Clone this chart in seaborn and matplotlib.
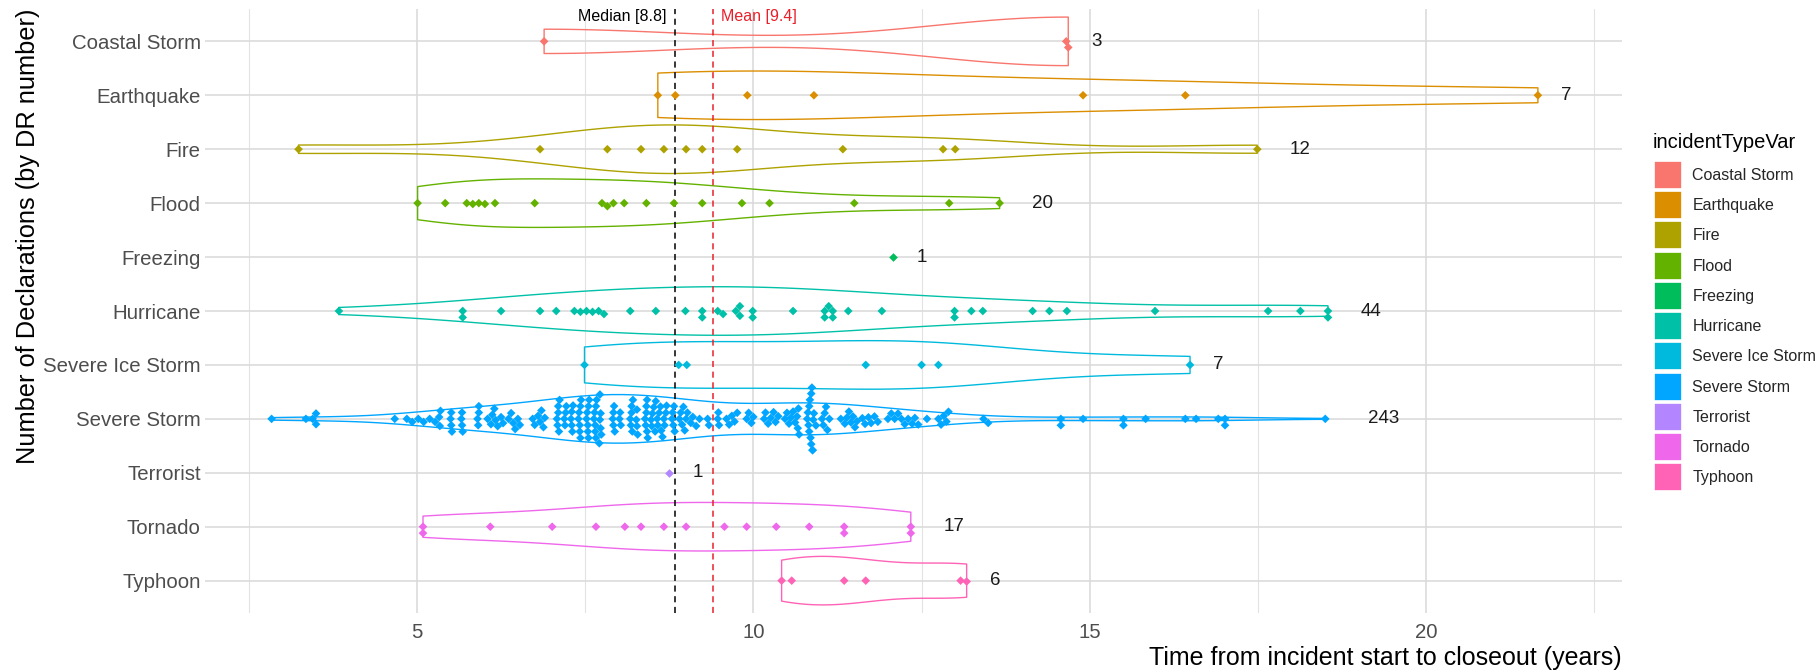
import numpy as np
import pandas as pd
import matplotlib
matplotlib.use("Agg")
import matplotlib.pyplot as plt
import seaborn as sns
import warnings
from matplotlib.patches import Patch
from matplotlib.ticker import FixedLocator

warnings.filterwarnings("ignore")

categories = ["Coastal Storm", "Earthquake", "Fire", "Flood", "Freezing", "Hurricane",
              "Severe Ice Storm", "Severe Storm", "Terrorist", "Tornado", "Typhoon"]
colors = ["#F8766D", "#DB8E00", "#AEA200", "#64B200", "#00BD5C", "#00C1A7",
          "#00BADE", "#00A6FF", "#B385FF", "#EF67EB", "#FF63B6"]

coastal_storm = [6.89, 14.65, 14.68]
earthquake = [8.58, 8.84, 9.91, 10.90, 14.90, 16.42, 21.66]
fire = [3.24, 6.83, 7.83, 8.33, 8.67, 9.00, 9.24, 9.76, 11.33, 12.82, 13.00, 17.49]
flood = [5.01, 5.42, 5.74, 5.83, 5.92, 6.01, 6.16, 6.75, 7.75, 7.83, 7.92, 8.08,
         8.41, 8.82, 9.24, 9.83, 10.24, 11.50, 12.91, 13.66]
freezing = [12.08]
hurricane = [3.84, 5.68, 5.68, 6.25, 6.83, 7.07, 7.34, 7.43, 7.52, 7.61, 7.70, 7.78,
             8.17, 8.55, 8.99, 9.24, 9.24, 9.47, 9.55, 9.74, 9.80, 9.80, 9.99, 9.99,
             10.59, 11.06, 11.06, 11.12, 11.18, 11.18, 11.41, 11.91, 12.99, 12.99,
             13.24, 13.41, 14.15, 14.40, 14.66, 15.97, 17.65, 18.13, 18.54, 18.54]
severe_ice_storm = [7.49, 8.89, 9.01, 11.67, 12.50, 12.75, 16.49]
severe_storm = [
    2.84, 3.35, 3.45, 3.50, 3.50, 4.67,
    4.85, 4.93, 5.02, 5.10, 5.19, 5.27,
    5.33, 5.34, 5.35, 5.50, 5.51, 5.51, 5.52, 5.66, 5.67, 5.67, 5.68,
    5.90, 5.91, 5.92, 5.92,
    6.05, 6.10, 6.12, 6.15, 6.17, 6.20, 6.25, 6.28,
    6.36, 6.40, 6.43, 6.46, 6.50, 6.53,
    6.72, 6.75, 6.80, 6.83, 6.85, 6.88, 6.90,
    7.08, 7.09, 7.10, 7.10, 7.11, 7.12,
    7.19, 7.20, 7.21, 7.22,
    7.29, 7.30, 7.30, 7.31, 7.32,
    7.40, 7.41, 7.42, 7.42, 7.43, 7.43, 7.44,
    7.52, 7.53, 7.54, 7.54, 7.55, 7.55, 7.56,
    7.63, 7.64, 7.65, 7.65, 7.66, 7.66, 7.67,
    7.71, 7.72, 7.72, 7.73, 7.73, 7.74,
    7.91, 7.92, 7.92, 7.93, 7.94,
    8.01, 8.02, 8.03,
    8.17, 8.18, 8.19, 8.19, 8.20, 8.21,
    8.26, 8.27, 8.27, 8.28,
    8.39, 8.40, 8.41, 8.41, 8.42, 8.42, 8.43,
    8.48, 8.49, 8.50, 8.52, 8.54, 8.55, 8.57, 8.58, 8.60, 8.62, 8.63, 8.65,
    8.67, 8.68, 8.70, 8.71,
    8.79, 8.80, 8.81, 8.82, 8.83,
    8.90, 8.92, 8.94, 8.96, 8.98, 9.00, 9.02, 9.07, 9.10, 9.15, 9.20,
    9.32, 9.34, 9.47, 9.48, 9.49,
    9.60, 9.64, 9.68, 9.72, 9.76,
    9.90, 9.93, 9.97, 10.00, 10.16, 10.18,
    10.22, 10.26, 10.30, 10.33, 10.37,
    10.47, 10.50, 10.53, 10.56, 10.59, 10.62,
    10.65, 10.66, 10.67, 10.68,
    10.80, 10.81, 10.82, 10.83, 10.83, 10.84, 10.85, 10.86, 10.86, 10.87, 10.88,
    10.88, 10.89, 10.90, 10.93,
    11.02, 11.04, 11.06, 11.08, 11.10, 11.13, 11.30,
    11.36, 11.39, 11.42, 11.45, 11.48, 11.51, 11.54,
    11.62, 11.66, 11.71, 11.75, 11.80, 11.85,
    12.00, 12.05, 12.10, 12.15, 12.20, 12.25, 12.30,
    12.36, 12.40, 12.45, 12.58,
    12.75, 12.79, 12.83, 12.87, 12.90,
    13.42, 13.49,
    14.57, 14.57, 14.90, 15.50, 15.50, 15.83, 16.42, 16.58, 16.91, 17.01, 17.01, 18.50]
terrorist = [8.75]
tornado = [5.09, 5.09, 6.09, 7.01, 7.66, 8.09, 8.33, 8.67, 9.00, 9.57, 9.90, 10.34,
           10.83, 11.35, 11.35, 12.34, 12.34]
typhoon = [10.42, 10.57, 11.35, 11.67, 13.08, 13.17]

series = [coastal_storm, earthquake, fire, flood, freezing, hurricane,
          severe_ice_storm, severe_storm, terrorist, tornado, typhoon]

x_ticks = [5, 10, 15, 20]
x_minor = [2.5, 7.5, 12.5, 17.5, 22.5]

df = pd.concat([pd.DataFrame({"type": c, "years": v}) for c, v in zip(categories, series)],
               ignore_index=True)
counts = df.groupby("type")["years"].size()
vdf = df[df["type"].map(counts) > 1]
pal = dict(zip(categories, colors))
dense = "Severe Storm"


def nrd0(kde):
    x = np.asarray(kde.dataset).ravel()
    sd = x.std(ddof=1)
    iqr = np.subtract(*np.percentile(x, [75, 25]))
    lo = min(sd, iqr / 1.34) if iqr > 0 else sd
    h = 0.9 * lo * len(x) ** (-0.2)
    return h / sd


sns.set_style("white")
plt.rcParams["font.family"] = ["Liberation Sans", "DejaVu Sans"]

fig = plt.figure(figsize=(18.2, 6.71), dpi=100)
ax = fig.add_axes([205 / 1820, 1 - 613 / 671, (1622 - 205) / 1820, (613 - 9) / 671])

sns.violinplot(data=vdf, x="years", y="type", hue="type", order=categories,
               hue_order=categories, palette=pal, fill=False, inner=None, cut=0,
               density_norm="area", width=0.9, linewidth=1.0, bw_method=nrd0,
               legend=False, orient="h", ax=ax)
sns.swarmplot(data=df[df["type"] != dense], x="years", y="type", hue="type",
              order=categories, hue_order=categories, palette=pal, size=4.4,
              marker="D", linewidth=0, legend=False, orient="h", ax=ax)

ylo, yhi = 10.6, -0.6

# the dense swarm gets a wider band (as the beeswarm in the original spreads further)
ax2 = ax.twinx()
sns.swarmplot(data=df[df["type"] == dense], x="years", y="type", hue="type",
              order=categories, hue_order=categories, palette=pal, size=4.4,
              marker="D", linewidth=0, legend=False, orient="h", ax=ax2)
k = 1.45
pos = categories.index(dense)
frac = (ylo - pos) / (ylo - yhi)
span = (ylo - yhi) / k
ax2.set_ylim(pos + frac * span, pos + frac * span - span)
ax2.set_yticks([])
ax2.set_ylabel("")
ax2.grid(False)
for s in ax2.spines.values():
    s.set_visible(False)

allv = df["years"].to_numpy()
med = np.median(allv)
mean = allv.mean()
ax.axvline(med, color="black", linestyle=(0, (4, 3)), linewidth=1.1, zorder=1)
ax.axvline(mean, color="#E8202A", linestyle=(0, (4, 3)), linewidth=1.1, zorder=1)
ax.text(med - 0.12, -0.47, f"Median [{med:.1f}]", ha="right", va="center",
        fontsize=11.5, color="black")
ax.text(mean + 0.12, -0.47, f"Mean [{mean:.1f}]", ha="left", va="center",
        fontsize=11.5, color="#E8202A")

for i, (c, v) in enumerate(zip(categories, series)):
    lab = str(len(v))
    ax.text(max(v) + 0.2 + 0.22 * len(lab), i, lab, ha="center", va="center",
            fontsize=13.5, color="#1a1a1a")

ax.set_xlim(1.85, 22.91)
ax.set_ylim(ylo, yhi)
ax.xaxis.set_major_locator(FixedLocator(x_ticks))
ax.xaxis.set_minor_locator(FixedLocator(x_minor))
ax.set_xticklabels([str(t) for t in x_ticks])
ax.grid(True, which="major", color="#d9d9d9", linewidth=1.1, zorder=0)
ax.grid(True, which="minor", axis="x", color="#e3e3e3", linewidth=0.8, zorder=0)
ax.set_axisbelow(True)
for s in ax.spines.values():
    s.set_visible(False)
ax.tick_params(axis="both", which="both", length=0)
ax.tick_params(axis="x", labelsize=14.7, labelcolor="#4d4d4d", pad=7)
ax.tick_params(axis="y", labelsize=14.7, labelcolor="#4d4d4d", pad=3)
ax.set_xlabel("Time from incident start to closeout (years)", loc="right",
              fontsize=18, color="black", labelpad=3)
ax.set_ylabel("Number of Declarations (by DR number)", loc="top", fontsize=18.3,
              color="black", labelpad=2)

fig.text(1653 / 1820, 1 - 143 / 671, "incidentTypeVar", ha="left", va="center",
         fontsize=14.5, color="black")
handles = [Patch(facecolor=c, edgecolor="white", linewidth=1.2) for c in colors]
leg = fig.legend(handles=handles, labels=categories,
                 loc="upper left", bbox_to_anchor=(1654 / 1820, 1 - 161 / 671),
                 frameon=False, fontsize=11.5,
                 handlelength=1.75, handleheight=2.32, handletextpad=0.65,
                 labelspacing=0.14, borderaxespad=0, borderpad=0)

fig.savefig("out.png", dpi=100, facecolor="white")
